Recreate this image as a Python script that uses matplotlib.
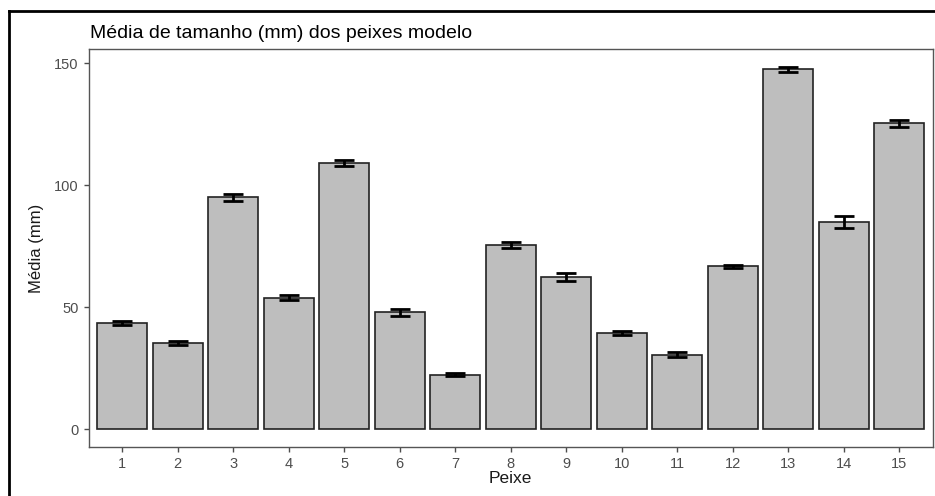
import numpy as np
import matplotlib.pyplot as plt
from matplotlib.lines import Line2D

plt.rcParams['font.family'] = ['Liberation Sans', 'DejaVu Sans']

peixes = [str(i) for i in range(1, 16)]
medias = [43.5, 35.3, 95.1, 53.8, 109.2, 47.9, 22.4, 75.5, 62.4, 39.3, 30.6, 66.8, 147.4, 85.0, 125.3]
erros = [0.7, 0.7, 1.4, 1.0, 1.2, 1.4, 0.6, 1.4, 1.6, 0.9, 0.9, 0.6, 1.2, 2.4, 1.6]

fig = plt.figure(figsize=(9.35, 4.96), dpi=100)
ax = fig.add_axes([89 / 935, 1 - 447 / 496, (932.5 - 89) / 935, (447 - 49) / 496])

x = np.arange(1, len(peixes) + 1)
ax.bar(x, medias, width=0.9, color='#BEBEBE', edgecolor='#222222', linewidth=1.2, zorder=2)
ax.errorbar(x, medias, yerr=erros, fmt='none', ecolor='black', elinewidth=2.0,
            capsize=7.5, capthick=2.0, zorder=3)

ax.set_xlim(0.4, 15.6)
ax.set_ylim(-7.3, 155.8)
ax.set_xticks(x)
ax.set_xticklabels(peixes)
ax.set_yticks([0, 50, 100, 150])

for s in ax.spines.values():
    s.set_color('#555555')
    s.set_linewidth(1.0)

ax.tick_params(colors='#4D4D4D', labelsize=10.5, length=3.5, width=1.0, pad=4)
ax.set_xlabel('Peixe', fontsize=12.5, color='#1a1a1a', labelpad=0)
ax.set_ylabel('Média (mm)', fontsize=12, color='#1a1a1a', labelpad=7)

fig.text(90 / 935, 1 - 38 / 496, 'Média de tamanho (mm) dos peixes modelo',
         fontsize=14, color='black', va='baseline', ha='left')

# moldura externa
fig.add_artist(Line2D([9 / 935, 9 / 935], [0, 1 - 11 / 496], transform=fig.transFigure,
                      color='black', linewidth=2))
fig.add_artist(Line2D([9 / 935, 1], [1 - 11 / 496, 1 - 11 / 496], transform=fig.transFigure,
                      color='black', linewidth=2))

fig.savefig('out.png', dpi=100)
